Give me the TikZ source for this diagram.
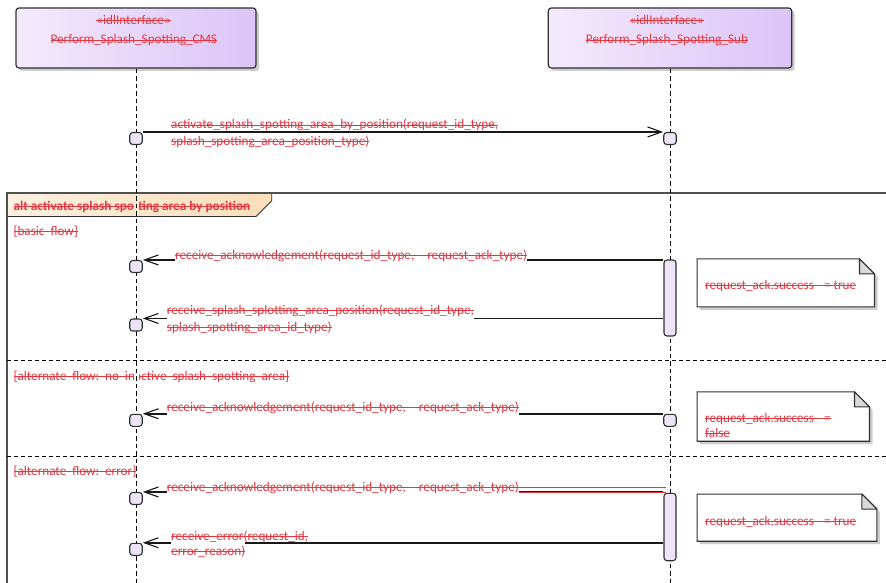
\documentclass[tikz,border=0pt]{standalone}
\usepackage{fontspec}
\setmainfont{Carlito}
\usetikzlibrary{arrows.meta,calc,shadows}
\definecolor{txtred}{RGB}{226,56,66}
\definecolor{headL}{RGB}{244,234,252}
\definecolor{headR}{RGB}{219,196,247}
\definecolor{exfill}{RGB}{238,228,250}
\definecolor{altL}{RGB}{253,240,224}
\definecolor{altR}{RGB}{249,222,186}
\definecolor{shadowc}{RGB}{205,205,205}
\definecolor{foldc}{RGB}{217,217,217}
\definecolor{edge}{RGB}{48,48,48}
\newsavebox\stkbox
\newcommand\stk[1]{\sbox\stkbox{#1}\rlap{\rule[0.27em]{\wd\stkbox}{0.9pt}}\usebox\stkbox}
\newcommand\drawnote[1]{%
  \fill[shadowc] ($(#1.north west)+(3,3)$) -- ($(#1.north east)+(-12,3)$) -- ($(#1.north east)+(3,18)$) -- ($(#1.south east)+(3,3)$) -- ($(#1.south west)+(3,3)$) -- cycle;
  \draw[draw=edge, line width=1.1pt, fill=white] (#1.north west) -- ($(#1.north east)+(-15,0)$) -- ($(#1.north east)+(0,15)$) -- (#1.south east) -- (#1.south west) -- cycle;
  \draw[draw=edge, line width=1.1pt, fill=foldc, line join=round] ($(#1.north east)+(-15,0)$) -- ($(#1.north east)+(-15,15)$) -- ($(#1.north east)+(0,15)$) -- cycle;
}
\begin{document}
\begin{tikzpicture}[x=1pt,y=-1pt, font=\fontsize{13.2}{15}\selectfont,
  txt/.style={text=txtred, inner sep=0pt, anchor=base west},
  ctxt/.style={text=txtred, inner sep=0pt, anchor=base},
  mask/.style={txt, fill=white, inner ysep=2.5pt},
  head/.style={draw=edge, line width=1.2pt, rounded corners=3pt, left color=headL, right color=headR,
    minimum height=60pt, inner sep=0pt,
    drop shadow={fill=shadowc, opacity=1, shadow xshift=3pt, shadow yshift=-3pt}},
  lifeline/.style={draw=black, line width=0.9pt, dash pattern=on 4.5pt off 3pt},
  exsq/.style={draw=edge, line width=1.1pt, fill=exfill, rounded corners=3pt, minimum width=12.5pt, minimum height=12pt, inner sep=0pt},
  actbar/.style={draw=edge, line width=1.1pt, fill=exfill, rounded corners=3pt, minimum width=12pt, inner sep=0pt},
  msg/.style={draw=black!90, line width=1.5pt, -{Straight Barb[length=14pt,width=10pt,line width=1.1pt]}},
  frameline/.style={draw=edge!85, line width=1.3pt},
  sepline/.style={draw=black, line width=0.9pt, dash pattern=on 4pt off 3pt},
  redline/.style={draw=txtred, line width=0.9pt},
  notebox/.style={draw=none, inner sep=0pt}
]
\fill[white] (0,0) rectangle (886,583);
\useasboundingbox (0,0) rectangle (886,583);

% combined fragment
\coordinate (fTL) at (7,193);
\coordinate (fTR) at (886,193);
\coordinate (fBL) at (7,583);
\path[draw=edge, line width=0.9pt, left color=altL, right color=altR]
  (7,193) -- (271.7,193) -- (271.7,200.7) -- (256,216.5) -- (7,216.5) -- cycle;
\draw[frameline] (fTR) -- (fTL) -- (fBL);
\coordinate (s1L) at (7,360); \coordinate (s1R) at (886,360);
\coordinate (s2L) at (7,456); \coordinate (s2R) at (886,456);
\draw[sepline] (s1L) -- (s1R);
\draw[sepline] (s2L) -- (s2R);

\node[txt, font=\fontsize{13.2}{15}\selectfont\bfseries] (altlbl) at (13.3,210.7) {\stk{alt activate splash spotting area by position}};
\node[txt] (g1) at (13.3,235) {\stk{[basic\ \ flow]}};
\node[txt] (g2) at (13.3,380) {\stk{[alternate\ \ flow:\ \ no\ \ inactive\ \ splash\ \ spotting\ \ area]}};
\node[txt] (g3) at (13.3,475) {\stk{[alternate\ \ flow:\ \ error]}};
\fill[altL!55!altR] (133.5,199) rectangle (138.5,215.5);
\fill[white] (133.5,367) rectangle (138.5,384);

% lifelines
\node[head, minimum width=240pt] (cms) at (136,38) {};
\node[head, minimum width=243.4pt] (sub) at (670,38) {};
\node[ctxt] (cmsS) at (133.5,24.7) {\stk{«idlInterface»}};
\node[ctxt] (cmsN) at (133.8,44) {\stk{Perform\_Splash\_Spotting\_CMS}};
\node[ctxt] (subS) at (666.7,24.7) {\stk{«idlInterface»}};
\node[ctxt] (subN) at (667,44) {\stk{Perform\_Splash\_Spotting\_Sub}};
\coordinate (cmsEnd) at (136,583);
\coordinate (subEnd) at (670,583);
\draw[lifeline] (cms.south) -- (cmsEnd);
\draw[lifeline] (sub.south) -- (subEnd);

% execution occurrences
\node[exsq] (q1c) at (136,138.5) {};
\node[exsq] (q1s) at (670,138.5) {};
\node[actbar, minimum height=76pt] (bar1) at (670,298) {};
\node[exsq] (q2) at (136,266.5) {};
\node[exsq] (q3) at (136,325) {};
\node[exsq] (q4c) at (136,420.3) {};
\node[exsq] (q4s) at (670,420.3) {};
\node[actbar, minimum height=67.4pt] (bar2) at (670,527) {};
\node[exsq] (q5) at (136,498.5) {};
\node[exsq] (q6) at (136,549.3) {};

% messages
\draw[msg, line width=1.2pt] (q1c.north east) -- (q1s.north west);
\draw[msg] (bar1.west |- q2.north) -- (q2.north east);
\draw[msg] (bar1.west |- q3.north) -- (q3.north east);
\draw[msg] (q4s.north west) -- (q4c.north east);
\draw[msg] (bar2.west |- q5.north) -- (q5.north east);
\draw[msg] (bar2.west |- q6.north) -- (q6.north east);

% message labels
\node[txt] (m1a) at (171,129) {\stk{activate\_splash\_spotting\_area\_by\_position(request\_id\_type,}};
\node[txt] (m1b) at (171,145.7) {\stk{splash\_spotting\_area\_position\_type)}};
\node[mask] (m2a) at (175,259) {\stk{receive\_acknowledgement(request\_id\_type,\hspace{13pt}request\_ack\_type)}};
\node[mask] (m3a) at (166.7,314.7) {\stk{receive\_splash\_splotting\_area\_position(request\_id\_type,}};
\node[txt] (m3b) at (166.7,331.3) {\stk{splash\_spotting\_area\_id\_type)}};
\node[mask] (m4a) at (166.7,411.3) {\stk{receive\_acknowledgement(request\_id\_type,\hspace{13pt}request\_ack\_type)}};
\node[mask] (m5a) at (166.7,491.3) {\stk{receive\_acknowledgement(request\_id\_type,\hspace{13pt}request\_ack\_type)}};
\coordinate (r1) at ($(m5a.base east)+(0,-3.6)$);
\coordinate (r2) at ($(m5a.base east)+(0,1.1)$);
\coordinate (rEnd) at ($(bar2.west)+(3,0)$);
\draw[redline] (r1) -- (r1 -| rEnd);
\draw[redline] (r2) -- (r2 -| rEnd);
\node[mask, inner ysep=3.5pt] (m6b) at (171,555) {\stk{error\_reason)}};
\node[txt] (m6a) at (171,540) {\stk{receive\_error(request\_id,}};

% notes
\node[notebox, minimum width=177pt, minimum height=47.7pt] (n1) at (785.8,282.85) {};
\node[notebox, minimum width=172pt, minimum height=49pt] (n2) at (783.3,416.5) {};
\node[notebox, minimum width=179.4pt, minimum height=46.7pt] (n3) at (787,517.65) {};
\drawnote{n1}
\drawnote{n2}
\drawnote{n3}
\node[txt] (n1t) at (705,289) {\stk{request\_ack.success\hspace{10pt}= true}};
\node[txt] (n2t) at (705,422.3) {\stk{request\_ack.success\hspace{10pt}=}};
\node[txt] (n2u) at (705,437.3) {\stk{false}};
\node[txt] (n3t) at (705,525) {\stk{request\_ack.success\hspace{10pt}= true}};
\end{tikzpicture}
\end{document}
